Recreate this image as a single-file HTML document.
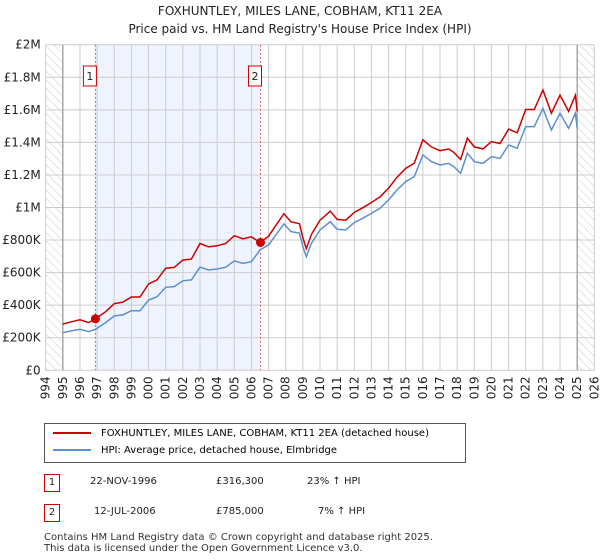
<!DOCTYPE html>
<html><head><meta charset="utf-8">
<style>
body{margin:0;background:#fff;font-family:"DejaVu Sans","Liberation Sans",sans-serif;}
#wrap{position:relative;width:600px;height:560px;overflow:hidden}
.t{position:absolute;color:#222;font-size:11px;white-space:nowrap}
</style></head><body>
<div id="wrap">
<div class="t" style="left:0;width:600px;text-align:center;top:4px;font-size:12px">FOXHUNTLEY, MILES LANE, COBHAM, KT11 2EA</div>
<div class="t" style="left:0;width:600px;text-align:center;top:22px;font-size:12px">Price paid vs. HM Land Registry's House Price Index (HPI)</div>
<svg id="chart" width="600" height="400" style="position:absolute;left:0;top:0" font-family="DejaVu Sans, Liberation Sans, sans-serif" font-size="12"></svg>
<div style="position:absolute;left:44px;top:423px;width:420px;height:38px;border:1px solid #555">
 <div style="position:absolute;left:8px;top:4px;font-size:10px;white-space:nowrap"><span style="display:inline-block;width:38px;height:2px;background:#cc0000;vertical-align:middle;margin-right:10px"></span>FOXHUNTLEY, MILES LANE, COBHAM, KT11 2EA (detached house)</div>
 <div style="position:absolute;left:8px;top:21px;font-size:10px;white-space:nowrap"><span style="display:inline-block;width:38px;height:2px;background:#5b8fd0;vertical-align:middle;margin-right:10px"></span>HPI: Average price, detached house, Elmbridge</div>
</div>
<div>
 <div class="t" style="left:44px;top:474px;width:14px;height:16px;border:1px solid #cc0000;text-align:center;font-size:10px;line-height:16px">1</div>
 <div class="t" style="left:90px;top:476px;font-size:10px">22-NOV-1996</div>
 <div class="t" style="left:216px;top:476px;font-size:10px">£316,300</div>
 <div class="t" style="left:307px;top:476px;font-size:10px">23% ↑ HPI</div>
</div>
<div>
 <div class="t" style="left:44px;top:504px;width:14px;height:16px;border:1px solid #cc0000;text-align:center;font-size:10px;line-height:16px">2</div>
 <div class="t" style="left:94px;top:506px;font-size:10px">12-JUL-2006</div>
 <div class="t" style="left:216px;top:506px;font-size:10px">£785,000</div>
 <div class="t" style="left:318px;top:506px;font-size:10px">7% ↑ HPI</div>
</div>
<div class="t" style="left:44px;top:532px;font-size:10px;line-height:11px;color:#333">Contains HM Land Registry data © Crown copyright and database right 2025.<br>This data is licensed under the Open Government Licence v3.0.</div>
</div>
<script>
const years=[1995,1995.5,1996,1996.5,1996.9,1997.5,1998,1998.5,1999,1999.5,2000,2000.5,2001,2001.5,2002,2002.5,2003,2003.5,2004,2004.5,2005,2005.5,2006,2006.5,2007,2007.5,2007.9,2008.3,2008.8,2009,2009.2,2009.5,2010,2010.6,2011,2011.5,2012,2012.5,2013,2013.5,2014,2014.5,2015,2015.5,2016,2016.5,2017,2017.5,2017.8,2018.2,2018.6,2019,2019.5,2020,2020.5,2021,2021.5,2022,2022.5,2023,2023.5,2024,2024.5,2024.9,2025];
const hpi=[0.231,0.242,0.252,0.238,0.252,0.293,0.334,0.34,0.366,0.366,0.432,0.452,0.51,0.514,0.55,0.555,0.633,0.616,0.622,0.633,0.672,0.657,0.667,0.739,0.77,0.842,0.899,0.852,0.842,0.76,0.698,0.78,0.862,0.913,0.866,0.862,0.907,0.934,0.964,0.995,1.046,1.108,1.159,1.19,1.323,1.282,1.261,1.271,1.251,1.21,1.333,1.282,1.271,1.312,1.302,1.384,1.364,1.497,1.497,1.609,1.476,1.579,1.486,1.579,1.486];
const price=[0.284,0.298,0.31,0.293,0.316,0.36,0.41,0.418,0.45,0.45,0.531,0.556,0.627,0.632,0.677,0.683,0.779,0.758,0.765,0.779,0.827,0.808,0.82,0.785,0.824,0.901,0.962,0.912,0.901,0.813,0.747,0.835,0.922,0.977,0.927,0.922,0.97,0.999,1.031,1.065,1.119,1.186,1.24,1.273,1.416,1.372,1.349,1.36,1.339,1.295,1.426,1.372,1.36,1.404,1.393,1.481,1.459,1.602,1.602,1.722,1.579,1.69,1.59,1.69,1.59];
const saleYears=[1996.9,2006.53];
const salePrices=[0.3163,0.785];
const yTicks=[0,0.2,0.4,0.6,0.8,1,1.2,1.4,1.6,1.8,2];
const yLabels=["£0","£200K","£400K","£600K","£800K","£1M","£1.2M","£1.4M","£1.6M","£1.8M","£2M"];
const xTicks=[1994,1995,1996,1997,1998,1999,2000,2001,2002,2003,2004,2005,2006,2007,2008,2009,2010,2011,2012,2013,2014,2015,2016,2017,2018,2019,2020,2021,2022,2023,2024,2025,2026];

const L=45.7,R=594.3,T=44.7,B=370.3;
const x=v=>L+(v-1994)/32*(R-L);
const y=v=>B-v/2*(B-T);
const svg=document.getElementById('chart');
const NS='http://www.w3.org/2000/svg';
function mk(tag,attrs){const e=document.createElementNS(NS,tag);for(const k in attrs)e.setAttribute(k,attrs[k]);svg.appendChild(e);return e;}
const defs=document.createElementNS(NS,'defs');
defs.innerHTML='<pattern id="h" width="6" height="6" patternUnits="userSpaceOnUse" patternTransform="rotate(-45)"><line x1="0" y1="0" x2="0" y2="6" stroke="#ccc" stroke-width="1"/></pattern>';
svg.appendChild(defs);
let e;
e=mk('rect',{x:x(1996.9),y:T,width:x(2006.53)-x(1996.9),height:B-T,fill:'#eef3fd'});


e=mk('rect',{x:L,y:T,width:x(1995)-L,height:B-T,fill:'url(#h)'});


e=mk('rect',{x:x(2025),y:T,width:R-x(2025),height:B-T,fill:'url(#h)'});


xTicks.forEach((t,i)=>{
 e=mk('line',{x1:x(t),x2:x(t),y1:T,y2:B,stroke:'#ccc','stroke-width':1});
 
 
 e=mk('text',{x:0,y:0,transform:`translate(${x(t)+4},${B+6}) rotate(-90)`,'text-anchor':'end',fill:'#222'});
 e.textContent=t;
 
 
});
yTicks.forEach((t,i)=>{
 e=mk('line',{x1:L,x2:R,y1:y(t),y2:y(t),stroke:'#ccc','stroke-width':1});
 
 
 e=mk('text',{x:L-5,y:y(t)+4,'text-anchor':'end',fill:'#222'});
 e.textContent=yLabels[i];
 
 
});
e=mk('line',{x1:x(1995),x2:x(1995),y1:T,y2:B,stroke:'#888','stroke-width':1});


e=mk('line',{x1:x(2025),x2:x(2025),y1:T,y2:B,stroke:'#888','stroke-width':1});


saleYears.forEach((s,i)=>{
 e=mk('line',{x1:x(s),x2:x(s),y1:T,y2:B,stroke:'#e06060','stroke-width':1,'stroke-dasharray':'2,2'});
 
 
 e=mk('rect',{x:x(s)-12,y:66,width:13,height:20,fill:'#fff',stroke:'#cc0000'});
 
 
 e=mk('text',{x:x(s)-5.5,y:80,'text-anchor':'middle',fill:'#222','font-size':11});
 e.textContent=String(i+1);
 
 
});
const pts=a=>a.map((v,i)=>x(years[i]).toFixed(1)+','+y(v).toFixed(1)).join(' ');
e=mk('polyline',{points:pts(hpi),fill:'none',stroke:'#5b8fd0','stroke-width':1.5});


e=mk('polyline',{points:pts(price),fill:'none',stroke:'#cc0000','stroke-width':1.5});


saleYears.forEach((s,i)=>{
 e=mk('circle',{cx:x(s),cy:y(salePrices[i]),r:4.5,fill:'#cc0000'});
 
 
});
</script>
</body></html>
